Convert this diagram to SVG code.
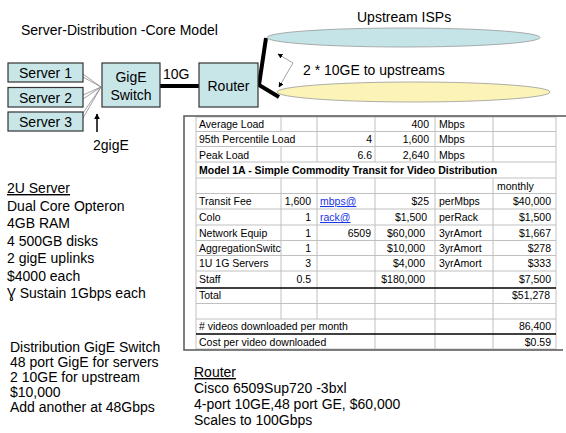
<svg xmlns="http://www.w3.org/2000/svg" width="566" height="433" viewBox="0 0 566 433">
<style>
text{font-family:"Liberation Sans",Arial,sans-serif;fill:#000}
.t14{font-size:14px}
.tb{font-size:10.5px}
.bold{font-weight:bold}
.r{text-anchor:end}
.m{text-anchor:middle}
.box{fill:#c8e6e8;stroke:#333;stroke-width:1.2}
.grid{stroke:#c0c0c0;stroke-width:1;fill:none}
.thick{stroke:#000;stroke-width:1.5}
.link{fill:#1a33e6;text-decoration:underline}
.wire{stroke:#8a8a8a;stroke-width:0.8;fill:none}
</style>
<defs>
<marker id="ah" viewBox="0 0 10 10" refX="9" refY="5" markerWidth="6" markerHeight="6" orient="auto-start-reverse" markerUnits="userSpaceOnUse">
<path d="M0,0 L10,5 L0,10 z" fill="#000"/>
</marker>
<marker id="ahs" viewBox="0 0 10 10" refX="9" refY="5" markerWidth="5" markerHeight="5" orient="auto-start-reverse" markerUnits="userSpaceOnUse">
<path d="M0,0 L10,5 L0,10 z" fill="#000"/>
</marker>
</defs>
<rect width="566" height="433" fill="#fff"/>

<text class="t14" x="21" y="35">Server-Distribution -Core Model</text>

<g id="connectors">
<path class="wire" d="M83,74 L101,87 M83,77 L101,87 M83,95 L101,87 M83,99 L101,87 M83,113 L101,87 M83,118 L101,87"/>
<line x1="160" y1="86" x2="199" y2="86" stroke="#000" stroke-width="4"/>
<polyline points="266,38 259,85 279,97" fill="none" stroke="#000" stroke-width="4" stroke-linejoin="miter"/>
<line x1="97" y1="132" x2="97" y2="114" stroke="#000" stroke-width="1.5" marker-end="url(#ah)"/>
<polyline points="278,54 293,63 279,87" fill="none" stroke="#8a8a8a" stroke-width="0.8" marker-start="url(#ahs)" marker-end="url(#ahs)"/>
</g>
<text class="t14" x="163" y="79">10G</text>
<text class="t14" x="93" y="150">2gigE</text>
<text class="t14" x="303" y="75">2 * 10GE to  upstreams</text>

<g id="server1"><rect class="box" x="8" y="63" width="75" height="19"/><text class="t14 m" x="45.5" y="78">Server 1</text></g>
<g id="server2"><rect class="box" x="8" y="87.5" width="75" height="19.5"/><text class="t14 m" x="45.5" y="102.5">Server 2</text></g>
<g id="server3"><rect class="box" x="8" y="112" width="75" height="19"/><text class="t14 m" x="45.5" y="127">Server 3</text></g>
<g id="switch"><rect class="box" x="102" y="63" width="58" height="44"/><text class="t14 m" x="131" y="82">GigE</text><text class="t14 m" x="131" y="100">Switch</text></g>
<g id="router"><rect class="box" x="199" y="63" width="59" height="44"/><text class="t14 m" x="228.5" y="91">Router</text></g>
<g id="upstream-isp1"><ellipse cx="403.5" cy="37.5" rx="136.5" ry="9.5" fill="#c4e4e8" stroke="#999" stroke-width="0.8"/><text class="t14" x="357" y="22">Upstream ISPs</text></g>
<g id="upstream-isp2"><ellipse cx="413.5" cy="92" rx="136.5" ry="10" fill="#fbf4b6" stroke="#999" stroke-width="0.8"/></g>

<g id="server-spec" class="t14">
<text x="7" y="193" text-decoration="underline">2U Server</text>
<text x="7" y="211">Dual Core  Opteron</text>
<text x="7" y="228">4GB RAM</text>
<text x="7" y="246">4 500GB disks</text>
<text x="7" y="263">2 gigE  uplinks</text>
<text x="7" y="281">$4000 each</text>
<text x="7" y="298">Ɣ Sustain 1Gbps each</text>
</g>

<g id="switch-spec" class="t14">
<text x="10" y="352">Distribution  GigE Switch</text>
<text x="10" y="367">48 port  GigE for servers</text>
<text x="10" y="382">2 10GE for upstream</text>
<text x="10" y="397">$10,000</text>
<text x="10" y="412">Add another at 48Gbps</text>
</g>

<g id="router-spec" class="t14">
<text x="194" y="377" text-decoration="underline">Router</text>
<text x="194" y="393">Cisco 6509Sup720 -3bxl</text>
<text x="194" y="409">4-port 10GE,48 port GE, $60,000</text>
<text x="194" y="425">Scales to 100Gbps</text>
</g>

<g id="table">
<path class="grid" d="M196,117H556 M196,131.5H556 M196,146.5H556 M196,162H556 M196,178H556 M196,193.5H556 M196,209H556 M196,225H556 M196,240.5H556 M196,255.5H556 M196,271H556 M196,303.5H556 M196,319H556 M196,349H556
M196,117V349 M556,117V349
M281,117V131.5 M281,146.5V162 M281,178V319
M317,117V162 M317,178V319
M375,117V162 M375,178V349
M435,117V162 M435,178V349
M493,117V162 M493,178V349"/>
<line class="thick" x1="196" y1="288" x2="556" y2="288"/>
<line class="thick" x1="196" y1="334" x2="556" y2="334"/>
<path d="M566,116H184V350H563" fill="none" stroke="#555" stroke-width="1.5"/>
<g class="tb">
<text x="199" y="128">Average Load</text><text class="r" x="429" y="128">400</text><text x="439" y="128">Mbps</text>
<text x="199" y="143">95th Percentile Load</text><text class="r" x="372" y="143">4</text><text class="r" x="429" y="143">1,600</text><text x="439" y="143">Mbps</text>
<text x="199" y="158.5">Peak Load</text><text class="r" x="372" y="158.5">6.6</text><text class="r" x="429" y="158.5">2,640</text><text x="439" y="158.5">Mbps</text>
<text class="bold" x="199" y="174">Model 1A - Simple Commodity Transit for Video Distribution</text>
<text x="497" y="189.5">monthly</text>
<text x="199" y="205">Transit Fee</text><text class="r" x="311" y="205">1,600</text><text class="link" x="320" y="205">mbps@</text><text class="r" x="429" y="205">$25</text><text x="439" y="205">perMbps</text><text class="r" x="551" y="205">$40,000</text>
<text x="199" y="221">Colo</text><text class="r" x="311" y="221">1</text><text class="link" x="320" y="221">rack@</text><text class="r" x="427" y="221">$1,500</text><text x="439" y="221">perRack</text><text class="r" x="551" y="221">$1,500</text>
<text x="199" y="236.5">Network Equip</text><text class="r" x="311" y="236.5">1</text><text class="r" x="371" y="236.5">6509</text><text class="r" x="425" y="236.5">$60,000</text><text x="439" y="236.5">3yrAmort</text><text class="r" x="551" y="236.5">$1,667</text>
<text x="199" y="251.5">AggregationSwitc</text><text class="r" x="311" y="251.5">1</text><text class="r" x="425" y="251.5">$10,000</text><text x="439" y="251.5">3yrAmort</text><text class="r" x="551" y="251.5">$278</text>
<text x="199" y="267">1U 1G Servers</text><text class="r" x="311" y="267">3</text><text class="r" x="425" y="267">$4,000</text><text x="439" y="267">3yrAmort</text><text class="r" x="551" y="267">$333</text>
<text x="199" y="283">Staff</text><text class="r" x="311" y="283">0.5</text><text class="r" x="425" y="283">$180,000</text><text class="r" x="551" y="283">$7,500</text>
<text x="199" y="299">Total</text><text class="r" x="550" y="299">$51,278</text>
<text x="199" y="330"># videos downloaded per month</text><text class="r" x="551" y="330">86,400</text>
<text x="199" y="345.5">Cost per video downloaded</text><text class="r" x="551" y="345.5">$0.59</text>
</g>
</g>
</svg>
